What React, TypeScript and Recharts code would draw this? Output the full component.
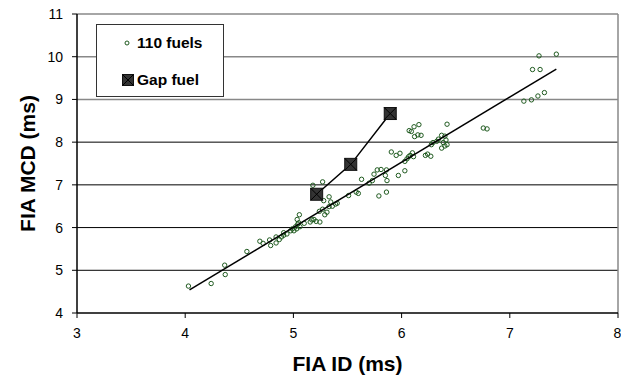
import { ComposedChart, ReferenceLine, Scatter, XAxis, YAxis } from 'recharts';

const xTicks = [3, 4, 5, 6, 7, 8];
const yTicks = [4, 5, 6, 7, 8, 9, 10, 11];
const darkGridLines = [5, 6, 7, 8];
const lightGridLines = [9, 10, 11];

// 110 fuels, FIA ID vs FIA MCD (ms)
const fuelId = [
  4.03, 4.24, 4.365, 4.37, 4.57, 4.69, 4.72, 4.78, 4.79, 4.84, 4.84, 4.87, 4.89, 4.91, 4.91, 4.94,
  4.975, 4.99, 5.005, 5.02, 5.03, 5.04, 5.055, 5.035, 5.05, 5.06, 5.1, 5.155, 5.17, 5.19, 5.21,
  5.245, 5.24, 5.27, 5.29, 5.31, 5.33, 5.345, 5.36, 5.39, 5.405, 5.33, 5.28, 5.27, 5.18,
  5.51, 5.58, 5.6, 5.63, 5.7, 5.73, 5.745, 5.775, 5.81, 5.86, 5.865, 5.79, 5.86, 5.85,
  5.905, 5.95, 5.985, 5.97, 6.03, 6.03, 6.05, 6.065, 6.08, 6.1, 6.11,
  6.07, 6.09, 6.115, 6.16, 6.15, 6.18, 6.12,
  6.22, 6.24, 6.27, 6.275, 6.29, 6.325, 6.34, 6.37, 6.4, 6.41, 6.385, 6.37, 6.4, 6.42, 6.42,
  6.755, 6.79, 7.13, 7.2, 7.26, 7.32, 7.21, 7.28, 7.27, 7.43,
];
const fuelMcd = [
  4.63, 4.69, 5.12, 4.9, 5.44, 5.68, 5.63, 5.71, 5.58, 5.78, 5.64, 5.72, 5.78, 5.88, 5.82, 5.85,
  5.925, 5.97, 5.925, 6.02, 5.97, 6.08, 6.3, 6.19, 6.11, 6.02, 6.1, 6.13, 6.18, 6.19, 6.145,
  6.13, 6.38, 6.43, 6.3, 6.36, 6.49, 6.6, 6.5, 6.55, 6.57, 6.72, 6.63, 7.07, 6.99,
  6.75, 6.83, 6.8, 7.13, 7.04, 7.1, 7.25, 7.35, 7.36, 7.35, 7.1, 6.74, 6.83, 7.22,
  7.77, 7.69, 7.74, 7.22, 7.33, 7.55, 7.61, 7.66, 7.69, 7.75, 7.66,
  8.27, 8.25, 8.36, 8.41, 8.17, 8.16, 8.13,
  7.69, 7.72, 7.67, 7.94, 7.99, 8.02, 8.07, 8.16, 8.14, 8.05, 7.99, 7.86, 7.91, 7.94, 8.42,
  8.33, 8.31, 8.96, 8.99, 9.08, 9.16, 9.7, 9.7, 10.02, 10.06,
];

const gapId = [5.215, 5.53, 5.895];
const gapMcd = [6.78, 7.48, 8.67];

const fitId = [4.04, 7.43];
const fitMcd = [4.54, 9.71];

const fuels = fuelId.map((id, i) => ({ id, mcd: fuelMcd[i] }));
const gap = gapId.map((id, i) => ({ id, mcd: gapMcd[i] }));
const fit = fitId.map((id, i) => ({ id, mcd: fitMcd[i] }));

const FONT = '"Liberation Sans", Arial, sans-serif';

const OpenCircle = ({ cx, cy }: any) => (
  <circle cx={cx} cy={cy} r={2.2} fill="none" stroke="#1f5a1f" strokeWidth={1} />
);

const CrossSquare = ({ cx, cy }: any) => {
  const h = 6;
  return (
    <g>
      <rect x={cx - h} y={cy - h} width={h * 2} height={h * 2} fill="#333" stroke="#111" />
      <path
        d={`M${cx - h},${cy - h}L${cx + h},${cy + h}M${cx + h},${cy - h}L${cx - h},${cy + h}`}
        stroke="#000"
        strokeWidth={1}
      />
    </g>
  );
};

const NoMark = () => <g />;

const Legend = () => (
  <div
    style={{
      position: 'absolute',
      left: 96,
      top: 24,
      width: 128,
      height: 73,
      boxSizing: 'border-box',
      border: '1px solid #333',
      background: '#fff',
      fontFamily: FONT,
      fontSize: 15.5,
      fontWeight: 'bold',
      color: '#000',
    }}
  >
    <div style={{ position: 'absolute', left: 26, top: 9, display: 'flex', alignItems: 'center' }}>
      <svg width={10} height={10}>
        <circle cx={4} cy={5} r={2} fill="none" stroke="#1f5a1f" strokeWidth={1} />
      </svg>
      <span style={{ marginLeft: 4 }}>110 fuels</span>
    </div>
    <div style={{ position: 'absolute', left: 25, top: 46, display: 'flex', alignItems: 'center' }}>
      <svg width={12} height={12}>
        <rect x={0.5} y={0.5} width={11} height={11} fill="#333" stroke="#111" />
        <path d="M0.5,0.5L11.5,11.5M11.5,0.5L0.5,11.5" stroke="#000" />
      </svg>
      <span style={{ marginLeft: 3 }}>Gap fuel</span>
    </div>
  </div>
);

export default function App() {
  const tickStyle = { fill: '#000', fontSize: 14, fontFamily: FONT };
  return (
    <div style={{ position: 'relative', width: 621, height: 383, background: '#fff' }}>
      <style>{'body{margin:0}'}</style>
      <ComposedChart
        width={621}
        height={383}
        margin={{ top: 14, right: 3, left: 0, bottom: 0 }}
        style={{ fontFamily: FONT }}
      >
        {lightGridLines.map((v) => (
          <ReferenceLine key={`l${v}`} y={v} stroke="#888" strokeWidth={1.5} />
        ))}
        {darkGridLines.map((v) => (
          <ReferenceLine key={`d${v}`} y={v} stroke="#000" strokeWidth={1} />
        ))}
        <ReferenceLine x={8} stroke="#888" strokeWidth={1.5} />
        <XAxis
          dataKey="id"
          type="number"
          domain={[3, 8]}
          ticks={xTicks}
          allowDataOverflow
          height={70}
          tick={tickStyle}
          tickSize={5}
          tickMargin={10}
          tickLine={{ stroke: '#000' }}
          axisLine={{ stroke: '#000', strokeWidth: 1.5 }}
          label={{
            value: 'FIA ID (ms)',
            position: 'insideBottom',
            offset: 12,
            style: { fontSize: 21, fontWeight: 'bold', fill: '#000', fontFamily: FONT },
          }}
        />
        <YAxis
          dataKey="mcd"
          type="number"
          domain={[4, 11]}
          ticks={yTicks}
          allowDataOverflow
          width={77}
          tick={tickStyle}
          tickSize={5}
          tickMargin={9}
          tickLine={{ stroke: '#000' }}
          axisLine={{ stroke: '#000', strokeWidth: 1.5 }}
          label={{
            value: 'FIA MCD (ms)',
            angle: -90,
            position: 'insideLeft',
            offset: 28,
            style: { fontSize: 21, fontWeight: 'bold', fill: '#000', textAnchor: 'middle', fontFamily: FONT },
          }}
        />
        <Scatter data={fuels} shape={OpenCircle} isAnimationActive={false} />
        <Scatter
          data={fit}
          shape={NoMark}
          line={{ stroke: '#000', strokeWidth: 1.5 }}
          lineType="joint"
          isAnimationActive={false}
        />
        <Scatter
          data={gap}
          shape={CrossSquare}
          line={{ stroke: '#000', strokeWidth: 1.5 }}
          lineType="joint"
          isAnimationActive={false}
        />
      </ComposedChart>
      <Legend />
    </div>
  );
}
